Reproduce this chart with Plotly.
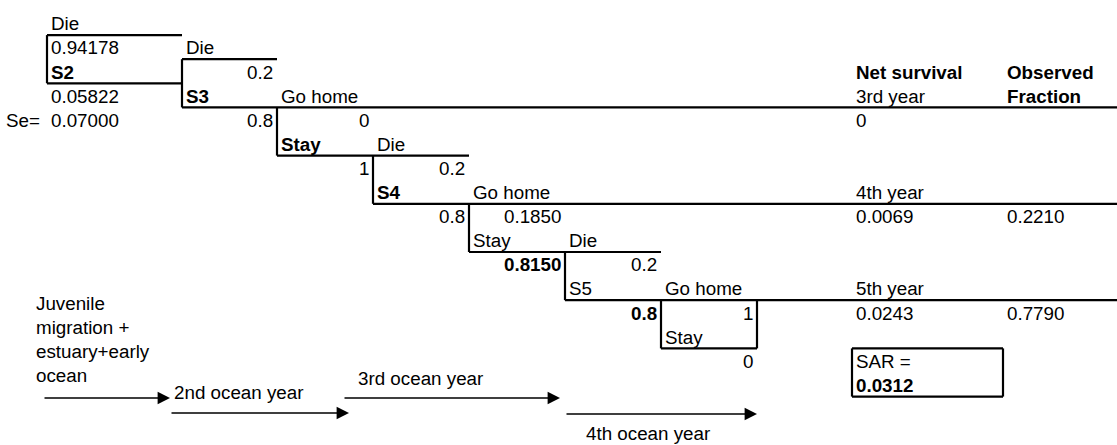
import plotly.graph_objects as go

# ---------------- data ----------------
stages = ["S2", "S3", "S4", "S5"]
stage_bold = [True, True, True, False]
die_prob = ["0.94178", "0.2", "0.2", "0.2"]
survive_prob = ["0.05822", "0.8", "0.8", "0.8"]
survive_bold = [False, False, False, True]
go_home_prob = ["0", "0.1850", "1"]
stay_prob = ["1", "0.8150", "0"]
stay_bold = [True, False, False]
stay_prob_bold = [False, True, False]
years = ["3rd year", "4th year", "5th year"]
net_survival = ["0", "0.0069", "0.0243"]
observed_fraction = ["", "0.2210", "0.7790"]
se_value = "0.07000"
sar_value = "0.0312"
juvenile_lines = ["Juvenile", "migration +", "estuary+early", "ocean"]
ocean_years = ["2nd ocean year", "3rd ocean year", "4th ocean year"]

# ---------------- layout grid ----------------
W, H = 1117, 445
col_edges = [0, 47, 182, 277, 373, 469, 565, 661, 757, 852, 1003, 1117]
ROW0, ROWH = 11.0, 24.1
FONT = "Liberation Sans, Arial, sans-serif"
FS = 18.8


def ky(k):
    return ROW0 + ROWH * k


def rc(r):
    return ky(r) + ROWH / 2 + 0.8


annotations = []


def cell(r, c, text, align="left", bold=False, pad=2):
    t = f"<b>{text}</b>" if bold else text
    if align == "left":
        x, xa = col_edges[c] + pad, "left"
    else:
        x, xa = col_edges[c + 1] - pad, "right"
    annotations.append(dict(x=x, y=rc(r), text=t, xref="x", yref="y",
                            xanchor=xa, yanchor="middle", showarrow=False,
                            font=dict(family=FONT, size=FS, color="black")))


# S2 node (column B, base row 0)
cell(0, 1, "Die")
cell(1, 1, die_prob[0])
cell(2, 1, stages[0], bold=stage_bold[0])
cell(3, 1, survive_prob[0])
cell(4, 0, "Se=", pad=4)
cell(4, 1, se_value)

# S3..S5 nodes
for j in range(1, 4):
    c, b = 2 * j, 4 * j - 3
    cell(b, c, "Die")
    cell(b + 1, c, die_prob[j], "right")
    cell(b + 2, c, stages[j], bold=stage_bold[j])
    cell(b + 3, c, survive_prob[j], "right", bold=survive_bold[j])

# go home / stay nodes
for j in range(3):
    c, b = 3 + 2 * j, 3 + 4 * j
    cell(b, c, "Go home")
    cell(b + 1, c, go_home_prob[j], "right")
    cell(b + 2, c, "Stay", bold=stay_bold[j])
    cell(b + 3, c, stay_prob[j], "right", bold=stay_prob_bold[j])

# right side table
cell(2, 9, "Net survival", bold=True)
cell(2, 10, "Observed", bold=True)
cell(3, 10, "Fraction", bold=True)
for j in range(3):
    b = 3 + 4 * j
    cell(b, 9, years[j])
    cell(b + 1, 9, net_survival[j])
    if observed_fraction[j]:
        cell(b + 1, 10, observed_fraction[j])
cell(14, 9, "SAR =")
cell(15, 9, sar_value, bold=True)

# juvenile text block
for i, line in enumerate(juvenile_lines):
    annotations.append(dict(x=34, y=303 + 24.3 * i, text=line, xref="x", yref="y",
                            xanchor="left", yanchor="middle", showarrow=False,
                            font=dict(family=FONT, size=FS, color="black")))

# ocean-year arrows (tail x, head x, y) and labels
arrows = [(43, 170, 398), (170, 349, 413), (343, 560, 398), (565, 757, 414)]
for x0, x1, y in arrows:
    annotations.append(dict(x=x1, y=y, ax=x0, ay=y, xref="x", yref="y",
                            axref="x", ayref="y", text="", showarrow=True,
                            arrowhead=2, arrowsize=1.9, arrowwidth=1.3,
                            arrowcolor="black", standoff=0, startstandoff=0))
label_pos = [(172, 392), (356, 378), (584, 433)]
for (x, y), t in zip(label_pos, ocean_years):
    annotations.append(dict(x=x, y=y, text=t, xref="x", yref="y",
                            xanchor="left", yanchor="middle", showarrow=False,
                            font=dict(family=FONT, size=FS, color="black")))

# ---------------- tree lines (grid indices) ----------------
segs = []


def hseg(k, c0, c1):
    segs.append(((col_edges[c0], ky(k)), (col_edges[c1], ky(k))))


def vseg(c, k0, k1):
    segs.append(((col_edges[c], ky(k0)), (col_edges[c], ky(k1))))


# S2 bracket
hseg(1, 1, 2); vseg(1, 1, 3); hseg(3, 1, 2)
# S3 bracket and 3rd-year go-home line
vseg(2, 2, 4); hseg(2, 2, 3); hseg(4, 2, 11)
# Stay (D) then S4 bracket, 4th-year line
vseg(3, 4, 6); hseg(6, 3, 5); vseg(4, 6, 8); hseg(8, 4, 11)
# Stay (F) then S5 bracket, 5th-year line
vseg(5, 8, 10); hseg(10, 5, 7); vseg(6, 10, 12); hseg(12, 6, 11)
# final stay box
vseg(7, 12, 14); hseg(14, 7, 8); vseg(8, 12, 14)
# SAR box
hseg(14, 9, 10); hseg(16, 9, 10); vseg(9, 14, 16); vseg(10, 14, 16)

xs, ys = [], []
for (x0, y0), (x1, y1) in segs:
    xs += [x0, x1, None]
    ys += [y0, y1, None]

fig = go.Figure(go.Scatter(x=xs, y=ys, mode="lines",
                           line=dict(color="black", width=2.2),
                           hoverinfo="skip", showlegend=False))
fig.update_layout(
    width=W, height=H, margin=dict(l=0, r=0, t=0, b=0),
    paper_bgcolor="white", plot_bgcolor="white",
    xaxis=dict(range=[0, W], visible=False, fixedrange=True),
    yaxis=dict(range=[H, 0], visible=False, fixedrange=True),
    annotations=annotations, showlegend=False,
)
fig.write_html("out.html", config={"displayModeBar": False},
               post_script="document.body.style.margin='0';"
                           "document.body.style.padding='0';"
                           "document.body.style.overflow='hidden';")
